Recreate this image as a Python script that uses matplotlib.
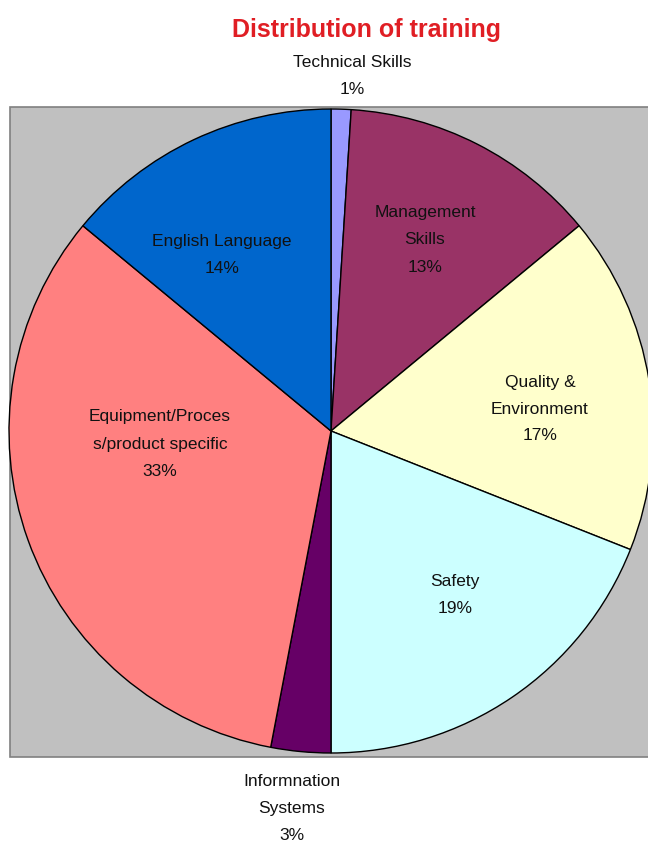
import matplotlib
matplotlib.use("Agg")
import matplotlib.pyplot as plt
from matplotlib.patches import Rectangle

# data (clockwise from 12 o'clock)
categories = ["Technical Skills", "Management\nSkills", "Quality &\nEnvironment", "Safety",
              "Informnation\nSystems", "Equipment/Proces\ns/product specific", "English Language"]
shares = [1, 13, 17, 19, 3, 33, 14]
colors = ["#9999FF", "#993366", "#FFFFCC", "#CCFFFF", "#660066", "#FF8080", "#0066CC"]

# label anchors in pixels (x, y from top), layout only
label_pos = [(352, 76), (425, 240), (540, 409), (455, 595), (292, 808), (160, 444), (222, 255)]

W, H = 648, 844
fig = plt.figure(figsize=(W / 100, H / 100), dpi=100)
ax = fig.add_axes([0, 0, 1, 1])

# gray plot area
ax.add_patch(Rectangle((10, H - 757), 660, 650, facecolor="#C0C0C0",
                       edgecolor="#808080", linewidth=1.2, zorder=0))

cx, cy, r = 331, H - 431, 322
ax.pie(shares, colors=colors, startangle=90, counterclock=False,
       center=(cx, cy), radius=r, frame=True,
       wedgeprops=dict(edgecolor="black", linewidth=1.0))
ax.set_xlim(0, W)
ax.set_ylim(0, H)
ax.set_aspect("equal")
ax.axis("off")

font = ["Liberation Sans", "DejaVu Sans"]
for name, val, (x, y) in zip(categories, shares, label_pos):
    ax.text(x, H - y, f"{name}\n{val}%", ha="center", va="center",
            fontsize=12.5, family=font, linespacing=2.0, color="#111111")

fig.text(367 / W, 1 - 30 / H, "Distribution of training", ha="center", va="center",
         fontsize=18, fontweight="bold", color="#E01E24",
         family=["Liberation Sans Narrow", "Liberation Sans"])

fig.savefig("out.png", dpi=100)
plt.close(fig)
